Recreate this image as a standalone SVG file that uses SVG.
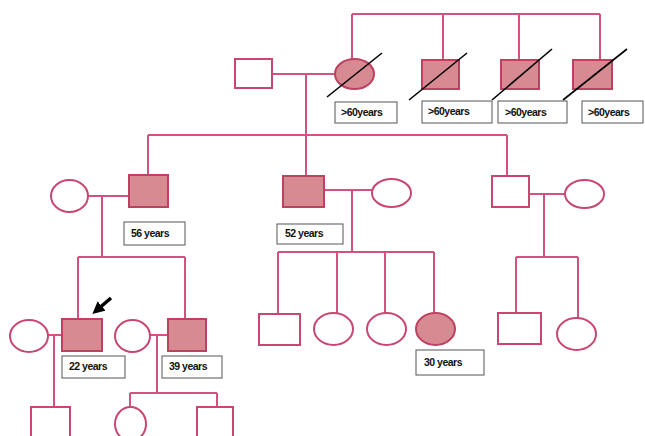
<svg xmlns="http://www.w3.org/2000/svg" width="645" height="436" viewBox="0 0 645 436">
<style>
.ln{stroke:#d4527f;stroke-width:2;fill:none}
.u{fill:#fff;stroke:#c9476f;stroke-width:2}
.a{fill:#d88a93;stroke:#bd4262;stroke-width:2}
.d{stroke:#000;stroke-width:1.6}
.lb rect{fill:#fff;stroke:#555;stroke-width:1}
.lb text{font-family:"Liberation Sans",Arial,sans-serif;font-size:10.5px;font-weight:bold;fill:#111;letter-spacing:-0.5px}
</style>
<defs>
<marker id="ah" viewBox="0 0 10 10" refX="5" refY="5" markerWidth="3.5" markerHeight="3.5" orient="auto">
<path d="M0,0 L10,5 L0,10 z" fill="#000"/>
</marker>
</defs>
<rect width="645" height="436" fill="#fff"/>
<g id="connectors">
<path class="ln" d="M352,14 H600 M352,14 V59 M443,14 V60 M519,14 V60 M600,14 V60"/>
<path class="ln" d="M272,74 H335 M306,74 V135 M148,135 H507 M148,135 V175 M306,135 V176 M507,135 V176"/>
<path class="ln" d="M88,196 H129 M102,196 V257 M78,257 H185 M78,257 V319 M185,257 V319"/>
<path class="ln" d="M324,190 H372 M352,190 V252 M278,252 H434 M278,252 V314 M337,252 V313 M385,252 V313 M434,252 V313"/>
<path class="ln" d="M529,194 H565 M544,194 V257 M516,257 H578 M516,257 V313 M578,257 V318"/>
<path class="ln" d="M48,335 H62 M54,335 V407"/>
<path class="ln" d="M150,335 H168 M157,335 V393 M130,393 H217 M130,393 V407 M217,393 V407"/>
</g>
<g id="gf"><rect class="u" x="235" y="59" width="37" height="29"/></g>
<g id="gm"><ellipse class="a" cx="354.5" cy="74" rx="19.5" ry="15"/><line class="d" x1="327" y1="97" x2="382" y2="53"/></g>
<g id="gu1"><rect class="a" x="422" y="60" width="37" height="29"/><line class="d" x1="409" y1="100" x2="467" y2="53"/></g>
<g id="gu2"><rect class="a" x="501" y="60" width="38" height="29"/><line class="d" x1="492" y1="100" x2="552" y2="49"/></g>
<g id="gu3"><rect class="a" x="573" y="60" width="39" height="29"/><line class="d" x1="563" y1="100" x2="627" y2="49"/></g>
<g class="lb" id="l1"><rect x="335" y="102" width="62" height="21"/><text x="341" y="116">&gt;60years</text></g>
<g class="lb" id="l2"><rect x="422" y="101" width="70" height="22"/><text x="428" y="115">&gt;60years</text></g>
<g class="lb" id="l3"><rect x="498" y="101" width="69" height="22"/><text x="505" y="116">&gt;60years</text></g>
<g class="lb" id="l4"><rect x="582" y="101" width="61" height="22"/><text x="588" y="116">&gt;60years</text></g>

<g id="w1"><ellipse class="u" cx="69.5" cy="196" rx="18.5" ry="16"/></g>
<g id="s1"><rect class="a" x="129" y="175" width="39" height="32"/></g>
<g class="lb" id="l56"><rect x="124" y="222" width="61" height="23"/><text x="131" y="237">56 years</text></g>
<g id="s2"><rect class="a" x="283" y="176" width="41" height="31"/></g>
<g class="lb" id="l52"><rect x="277" y="224" width="66" height="20"/><text x="285" y="237">52 years</text></g>
<g id="w2"><ellipse class="u" cx="391.5" cy="193" rx="19.5" ry="14"/></g>
<g id="s3"><rect class="u" x="492" y="176" width="37" height="31"/></g>
<g id="w3"><ellipse class="u" cx="584.5" cy="194" rx="19.5" ry="14"/></g>

<g id="c1"><rect class="u" x="259" y="314" width="41" height="31"/></g>
<g id="c2"><ellipse class="u" cx="333.5" cy="329" rx="19.5" ry="16"/></g>
<g id="c3"><ellipse class="u" cx="386.5" cy="329" rx="19.5" ry="16"/></g>
<g id="c4"><ellipse class="a" cx="435.5" cy="329" rx="19.5" ry="16"/></g>
<g class="lb" id="l30"><rect x="416" y="350" width="68" height="25"/><text x="424" y="366">30 years</text></g>
<g id="c5"><rect class="u" x="498" y="313" width="43" height="31"/></g>
<g id="c6"><ellipse class="u" cx="576.5" cy="334" rx="19.5" ry="16"/></g>

<g id="w4"><ellipse class="u" cx="29" cy="336" rx="19" ry="16"/></g>
<g id="proband"><rect class="a" x="62" y="319" width="40" height="32"/><line x1="111" y1="298" x2="97" y2="310" stroke="#000" stroke-width="3.5" marker-end="url(#ah)"/></g>
<g class="lb" id="l22"><rect x="62" y="356" width="63" height="22"/><text x="69" y="370">22 years</text></g>
<g id="w5"><ellipse class="u" cx="132.5" cy="336" rx="17.5" ry="16"/></g>
<g id="s4"><rect class="a" x="168" y="319" width="38" height="32"/></g>
<g class="lb" id="l39"><rect x="162" y="356" width="60" height="22"/><text x="169" y="370">39 years</text></g>

<g id="g1"><rect class="u" x="31" y="407" width="39" height="34"/></g>
<g id="g2"><ellipse class="u" cx="130.5" cy="424" rx="15.5" ry="17"/></g>
<g id="g3"><rect class="u" x="197" y="407" width="36" height="34"/></g>
</svg>
